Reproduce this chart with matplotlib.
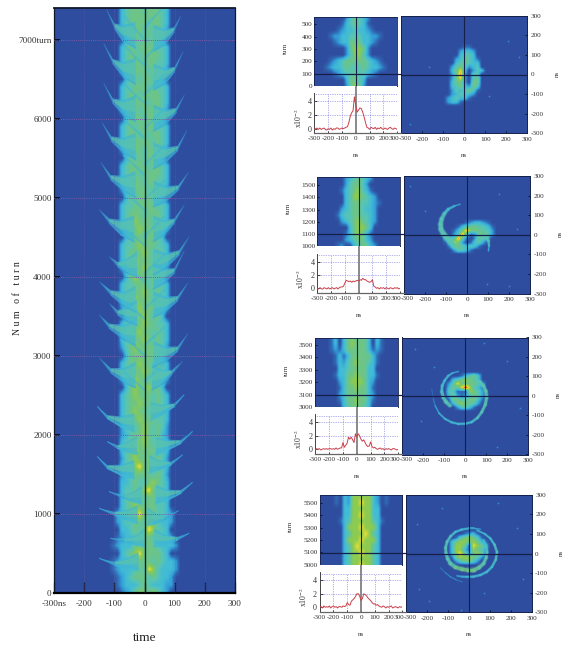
import numpy as np
import matplotlib
matplotlib.use("Agg")
import matplotlib.pyplot as plt
from matplotlib.collections import LineCollection
from matplotlib.colors import LinearSegmentedColormap
from matplotlib.lines import Line2D

plt.rcParams['font.family'] = ['Liberation Serif', 'DejaVu Serif']
W, H = 565, 648

# ---------- data: main waterfall, one row per 100 turns (7400 -> 0), one column per 15 ns (-180 .. 180)
MAIN_ROWS = """
0000000 34555455543 0000000
0000000 34555555543 0000000
0000000 34555545543 0000000
0000000 24555454542 0000000
00000000 355454553 00000000
0000000 34545555443 0000000
0000000 34554555543 0000000
0000000 34555455443 0000000
0000000 24555545542 0000000
00000000 355455453 00000000
0000000 34455545443 0000000
0000000 34554555543 0000000
0000000 34555545543 0000000
0000000 24554555542 0000000
00000000 355545543 00000000
0000000 34545555443 0000000
0000000 34554545543 0000000
0000000 34555554543 0000000
0000000 24555455542 0000000
00000000 354545543 00000000
0000000 34555545543 0000000
0000000 34554555543 0000000
0000000 34555455443 0000000
0000000 24555545542 0000000
00000000 354555453 00000000
0000000 34455555443 0000000
0000000 34555455543 0000000
0000000 34565554543 0000000
0000000 24556555542 0000000
00000000 355545553 00000000
0000000 34456555443 0000000
0000000 34555654543 0000000
0000000 34565554543 0000000
0000000 24555654542 0000000
00000000 356554553 00000000
0000000 34455545443 0000000
0000000 34555654543 0000000
0000000 34565554543 0000000
0000000 24556555442 0000000
00000000 355565453 00000000
0000000 34455655443 0000000
0000000 34556554543 0000000
0000000 34555654543 0000000
0000000 24565555542 0000000
00000000 355555553 00000000
0000000 34556554543 0000000
0000000 34555655543 0000000
0000000 24565545542 0000000
00000000 356556553 00000000
0000000 34565554543 0000000
0000000 34556554543 0000000
0000000 34565545543 0000000
0000000 34556555443 0000000
0000000 24545654542 0000000
0000000 23455654532 0000000
0000000 34565654543 0000000
0000000 34565555443 0000000
0000000 24565554542 0000000
0000000 34467555443 0000000
0000000 23455554542 0000000
0000000 33454456543 0000000
0000000 34454675443 0000000
0000000 34555455443 0000000
0000000 34565555443 0000000
000000 2345675554432 000000
000000 2344554654332 000000
0000000 33454576443 0000000
000000 1233455544332 000000
00000 123335555543332 00000
0000000 34567555543 0000000
00000 123345555454332 00000
00000 123334547643332 00000
000000 1234555454332 000000
000000 1233345433322 000000
0000000 12356556532 0000000
"""
MAIN_NS = [-180, 180]
MAIN_TURN = [7400, 0]

# strong thin wings of the first turns: (ns, turn) points, from tip to body
MAIN_WINGS_LOW = [
    [(-156, 2359), (-123, 2211), (-78, 2105), (-34, 2043)],
    [(131, 2507), (98, 2359), (54, 2253), (21, 2190)],
    [(159, 2043), (120, 1895), (76, 1810), (38, 1747)],
    [(-123, 1916), (-89, 1831), (-56, 1789), (-25, 1760)],
    [(-156, 1725), (-123, 1578), (-78, 1494), (-34, 1451)],
    [(126, 1747), (87, 1620), (43, 1557), (15, 1520)],
    [(159, 1400), (120, 1262), (76, 1177), (38, 1135)],
    [(-117, 1283), (-67, 1199), (-34, 1156), (-10, 1130)],
    [(-150, 1072), (-100, 988), (-56, 925), (-23, 882)],
    [(112, 1040), (65, 925), (35, 880), (10, 860)],
    [(148, 756), (109, 671), (65, 608), (32, 587)],
    [(-112, 692), (-67, 650), (-23, 608), (0, 590)],
    [(-150, 439), (-100, 355), (-56, 312), (-20, 290)],
]
# fainter wings further on
MAIN_WINGS_HIGH = [
    [(-150, 4850), (-117, 4680), (-78, 4532), (-34, 4448)],
    [(-117, 4257), (-89, 4130), (-56, 4047), (-25, 4000)],
    [(-150, 3941), (-112, 3773), (-67, 3625), (-30, 3560)],
    [(-117, 3667), (-89, 3519), (-56, 3435), (-25, 3390)],
    [(-150, 3519), (-117, 3350), (-67, 3203), (-30, 3140)],
    [(-150, 2976), (-112, 2786), (-67, 2660), (-30, 2600)],
    [(132, 4912), (99, 4680), (65, 4532), (30, 4450)],
    [(148, 4511), (115, 4279), (70, 4110), (30, 4030)],
    [(132, 4330), (99, 4050), (65, 3920), (30, 3850)],
    [(143, 3920), (110, 3700), (70, 3560), (30, 3490)],
    [(143, 3280), (110, 3060), (70, 2930), (30, 2860)],
    [(126, 2930), (90, 2760), (58, 2640), (25, 2570)],
    [(-125, 7380), (-100, 7150), (-75, 7000), (-30, 6900)],
    [(-135, 6950), (-105, 6700), (-70, 6530), (-30, 6440)],
    [(-135, 6450), (-105, 6200), (-70, 6050), (-30, 5970)],
    [(-140, 5950), (-110, 5720), (-70, 5570), (-30, 5490)],
    [(-145, 5450), (-112, 5230), (-70, 5090), (-30, 5010)],
    [(120, 7300), (98, 7100), (70, 6950), (30, 6860)],
    [(128, 6850), (100, 6600), (70, 6450), (30, 6370)],
    [(132, 6300), (105, 6080), (70, 5930), (30, 5850)],
    [(140, 5850), (110, 5600), (70, 5450), (30, 5370)],
    [(145, 5320), (112, 5100), (72, 4960), (30, 4890)],
]

# pale chevrons inside the body: (ns, turn)
MAIN_VEES = [
    [(-65, 7300), (-30, 7130), (0, 7010)], [(65, 7420), (30, 7280), (0, 7160)],
    [(-67, 6937), (-30, 6780), (0, 6684)], [(65, 7010), (30, 6880), (0, 6760)],
    [(-70, 6450), (-30, 6300), (0, 6200)], [(65, 6560), (30, 6420), (0, 6310)],
    [(-70, 6000), (-30, 5860), (0, 5760)], [(65, 6130), (30, 5990), (0, 5880)],
    [(-70, 5540), (-30, 5400), (0, 5290)], [(65, 5660), (30, 5530), (0, 5420)],
    [(-70, 5080), (-30, 4950), (0, 4850)], [(65, 5220), (30, 5090), (0, 4980)],
    [(-70, 4620), (-30, 4500), (0, 4400)], [(65, 4760), (30, 4630), (0, 4520)],
    [(-70, 4160), (-30, 4040), (0, 3940)], [(65, 4280), (30, 4150), (0, 4050)],
    [(-70, 3700), (-30, 3570), (0, 3470)], [(65, 3830), (30, 3700), (0, 3600)],
    [(-70, 3240), (-30, 3110), (0, 3010)], [(65, 3360), (30, 3240), (0, 3140)],
    [(-70, 2800), (-30, 2670), (0, 2570)], [(65, 2900), (30, 2780), (0, 2680)],
]

# thickness of each wing above its lower edge, tip to body (turns)
WING_RISE_LOW = [0, 40, 130, 230]
WING_RISE_HIGH = [0, 60, 190, 330]

# ---------- small waterfalls: rows per 50 turns (top to bottom), columns per 30 ns
HM_ROWS = [
    """
    00000000 245432 0000000
    0000000 1345431 0000000
    000000 123343321 000000
    0000 1223344433221 0000
    00000 12335553321 00000
    00000000 256652 0000000
    00000000 246642 0000000
    0000 1234555554321 0000
    000 123345444543321 000
    00000 12344544321 00000
    00000000 35543 00000000
    00000000 25652 00000000
    """,
    """
    0000000 2345432 0000000
    0000000 245542 00000000
    000000 13456431 0000000
    0000000 34665432 000000
    0000000 345544321 00000
    000000 234554332 000000
    00000 1344554432 000000
    000000 234565432 000000
    00000000 356653 0000000
    0000000 1356531 0000000
    0000000 2345532 0000000
    00000 1200345532 000000
    """,
    """
    0000 1303555553031 0000
    0000 1303565553031 0000
    0000 1213555553121 0000
    00000 13135555531 00000
    00000 13245655431 00000
    00000 03345555330 00000
    00000 13355655331 00000
    00000 02356665320 00000
    000000 135565531 000000
    000000 235555532 000000
    000000 135565531 000000
    000000 034555430 000000
    """,
    """
    0000 1032666663201 0000
    0000 1032667663201 0000
    00000 03366666330 00000
    00000 03366766330 00000
    00000 13466666431 00000
    00000 03666766630 00000
    00000 03466676430 00000
    00000 03666766630 00000
    00000 03467666430 00000
    000000 346676643 000000
    000000 346666643 000000
    000000 346676643 000000
    """,
]
HM_BASE = [0, 1000, 3000, 5000]
HM_TOP = [561, 1568, 3550, 5567]
HM_TICKS = [[0, 100, 200, 300, 400, 500],
            [1000, 1100, 1200, 1300, 1400, 1500],
            [3000, 3100, 3200, 3300, 3400, 3500],
            [5000, 5100, 5200, 5300, 5400, 5500]]
HM_LINE_TURN = [97, 1097, 3097, 5097]

# ---------- profiles: ns grid and values (x10^-2)
PROFILE_NS = list(range(-300, 301, 10))
PROFILES = [
    [-.1, 0, .1, -.1, .1, -.1, 0, .1, -.1, -.2, 0, -.1, .1, -.2, 0, -.1, .1, .1, -.1, 0,
     .1, 0, .1, .2, .3, .9, 1.8, 2.3, 2.6, 4.6, 3.4, 2.4, 2.7, 3.0, 2.9, 2.4, 1.7, .9, .2, .1,
     -.1, .2, .1, 0, .2, -.1, .1, 0, .2, 0, -.1, .1, 0, -.1, .1, .2, 0, -.1, .1, 0, -.1],
    [0, -.1, .1, -.1, -.1, .1, 0, -.1, .1, -.1, 0, .1, -.1, 0, .1, -.1, .1, .2, .2, .3,
     .8, 1.2, 1.1, 1.0, 1.1, .9, 1.1, 1.0, 1.1, 1.2, 1.1, 1.3, 1.2, 1.5, 1.3, 1.3, 1.1, 1.0, .9, 1.0,
     1.3, .3, .2, 0, .1, -.1, .1, 0, .1, -.1, .1, 0, -.1, .1, 0, -.1, .1, 0, .1, -.1, 0],
    [-.1, .1, 0, .1, -.1, 0, .1, 0, .1, 0, .1, .1, 0, .1, 0, .2, 0, .1, .2, .2,
     1.0, .3, .6, .9, 1.8, 1.5, 1.8, 1.4, 1.0, 2.3, 1.8, 2.3, 2.0, 1.5, 1.2, 1.4, 1.0, .6, .4, .5,
     1.1, .4, .2, .3, .1, 0, .1, .2, 0, .1, -.1, .1, 0, .1, 0, -.1, .1, .1, 0, -.1, 0],
    [0, .1, -.1, .2, 0, .1, 0, .2, -.1, .1, .2, 0, .1, -.1, .1, .1, 0, .2, .1, .2,
     .7, .4, .3, .9, 1.1, 1.3, 1.6, 2.0, 2.0, 1.7, 1.0, 1.3, 2.0, 1.9, 1.7, 1.4, 1.2, 1.0, .7, .5,
     .5, .3, .4, .2, .1, 0, .2, .1, -.1, .1, 0, .1, .2, -.1, 0, .1, 0, -.1, .1, 0, .1],
]
TIME_LABELS = ["-300", "-200", "-100", "0", "100", "200", "300"]

# ---------- phase space maps: rows y = 160 .. -160, columns x = -160 .. 160, step 20
PHASE_ROWS = [
    """
    00000000000000000
    00000000110000000
    00000002332000000
    00000003443000000
    00000023543100000
    00000034543300000
    00000245423400000
    00000357302430000
    00000258204400000
    00000257204500000
    00000355205500000
    00000345325400000
    00000243454100000
    00000234432000000
    00002343310000000
    00002331000000000
    00000000000000000
    """,
    """
    00000000000000000
    00000000000000000
    00000000000000000
    00000000000000000
    00000000000000000
    00000000123321000
    00000013455443100
    00000135855544200
    00000248312554200
    00034484102542000
    00014752014420000
    00002554343100000
    00000244310000000
    00000000000000000
    00000000000000000
    00000000000000000
    00000000000000000
    """,
    """
    00000000000000000
    00000000000000000
    00000000000000000
    00000001345300000
    00000345655300000
    00002475555420000
    00003547964310000
    00004411165420000
    00003521245420000
    00001554455310000
    00000356554200000
    00000024431000000
    00000000000000000
    00000000000000000
    00000000000000000
    00000000000000000
    00000000000000000
    """,
    """
    00000000000000000
    00000000000000000
    00000000000000000
    00000001231000000
    00000145654100000
    00003566565310000
    00003665176530000
    00003663165420000
    00003675256510000
    00001566654200000
    00000245542000000
    00000000000000000
    00000000000000000
    00000000000000000
    00000000000000000
    00000000000000000
    00000000000000000
    """,
]

# spiral arms: (x ns, y ns, stroke, level)
PHASE_ARMS = [
    [],
    [[(-33, 156, .6, 2), (-60, 147, 1.2, 2.5), (-89, 131, 1.7, 3), (-108, 108, 2.2, 3.5), (-121, 80, 2.6, 4),
      (-126, 54, 2.8, 4), (-124, 29, 3, 4), (-113, 6, 3.2, 4), (-97, -14, 3.4, 4), (-80, -32, 3.4, 4), (-65, -48, 3.4, 4)],
     [(50, -20, 2.5, 4), (78, -8, 2.5, 4), (95, -15, 2, 4), (102, -31, 1.7, 4), (105, -55, 1.2, 3), (102, -82, .8, 2)]],
    [[(-144, -49, .8, 2), (-125, -88, 1, 2.5), (-97, -117, 1.2, 3), (-65, -135, 1.3, 3), (-33, -143, 1.4, 3),
      (0, -142, 1.4, 3), (30, -134, 1.5, 3), (58, -112, 1.6, 3.5), (78, -83, 1.7, 4), (95, -45, 1.9, 4),
      (102, -7, 2.1, 4), (98, 25, 2.1, 4), (86, 53, 2.1, 4), (68, 72, 2.3, 4), (46, 83, 2.5, 4)],
     [(-33, 126, .8, 2), (-60, 118, 1.1, 2.5), (-81, 104, 1.3, 3), (-98, 80, 1.5, 3), (-110, 53, 1.7, 3),
      (-112, 22, 1.9, 3.5), (-105, -7, 2.1, 4), (-92, -30, 2.3, 4), (-73, -49, 2.5, 4)],
     [(-160, 36, .7, 1), (-152, -15, .7, 1), (-144, -49, .8, 2)]],
    [[(38, 119, 1, 3), (75, 100, 1.2, 3), (102, 77, 1.4, 3), (122, 45, 1.5, 3.5), (134, 8, 1.5, 4), (128, -32, 1.5, 3.5),
      (110, -68, 1.5, 3), (85, -94, 1.5, 3), (54, -110, 1.5, 3), (22, -118, 1.4, 3), (-10, -119, 1.4, 3),
      (-35, -118, 1.2, 2.5), (-57, -114, 1, 2)],
     [(54, 124, .8, 2), (25, 128, 1, 2.5), (-2, 128, 1.3, 3), (-35, 122, 1.4, 3), (-65, 110, 1.5, 3), (-88, 88, 1.6, 3.5),
      (-105, 60, 1.7, 4), (-112, 30, 1.8, 4), (-110, 0, 1.9, 4), (-102, -27, 2.1, 4), (-89, -51, 2.4, 4),
      (-65, -70, 2.5, 4.5), (-33, -80, 2.5, 5), (-5, -85, 2.5, 5), (22, -85, 2.5, 5), (48, -72, 2.4, 4.5),
      (70, -51, 2.2, 4), (82, -22, 1.9, 4), (86, 8, 1.7, 4), (82, 40, 1.5, 3.5), (70, 68, 1.3, 3)],
     [(-137, -73, .7, 1), (-113, -98, .7, 1.5), (-89, -119, .7, 2), (-60, -135, .7, 1.5), (-33, -145, .8, 1)]],
]

# isolated bright counts seen on the maps: (x ns, y ns)
PHASE_SPECKS = [
    [(210, 170), (-170, 40), (120, -110), (-260, -250), (260, 90)],
    [(-270, 250), (95, -250), (200, -260), (-200, 120), (240, 30), (150, 210)],
    [(-240, 240), (-150, 150), (200, 180), (-210, -130), (150, -260), (260, -60), (90, 270)],
    [(-250, 150), (-240, -180), (140, 260), (-190, -240), (-40, -290), (230, 130), (70, -200), (-130, 230), (260, -130)],
]

# ---------- layout in reference pixels
PANELS = [
    dict(hm=(314.3, 397.3, 16.7, 86.3), prof_bottom=133.3, p0=128.7, p4=101.0, ph=(401.3, 527.3, 15.7, 133.3), ph0=74.3),
    dict(hm=(317.3, 400.0, 176.7, 246.3), prof_bottom=293.3, p0=288.3, p4=261.7, ph=(404.0, 530.0, 176.0, 293.7), ph0=234.0),
    dict(hm=(315.3, 398.3, 338.3, 407.3), prof_bottom=454.3, p0=449.3, p4=422.3, ph=(402.3, 528.3, 337.5, 454.5), ph0=395.3),
    dict(hm=(319.7, 402.3, 494.7, 564.7), prof_bottom=612.3, p0=607.3, p4=580.3, ph=(406.3, 531.7, 494.7, 612.3), ph0=553.0),
]

cmap = LinearSegmentedColormap.from_list("beam", [
    (0 / 9, "#2f4d9e"), (1 / 9, "#2f6bb5"), (2 / 9, "#34a0d8"), (3 / 9, "#42bcd4"),
    (4 / 9, "#58c4b4"), (5 / 9, "#6cc488"), (6 / 9, "#8ccb50"), (7 / 9, "#eadf30"),
    (8 / 9, "#f0902c"), (9 / 9, "#de2c20")])
BG = cmap(0.0)
FONT_MAIN = 6.6
FONT_SMALL = 5.2
DARK = "#14204a"


def parse(text):
    rows = [r.replace(" ", "") for r in text.strip().splitlines()]
    return np.array([[int(c) for c in r] for r in rows], dtype=float)


def px_axes(fig, x0, x1, ytop, ybot):
    return fig.add_axes([x0 / W, 1 - ybot / H, (x1 - x0) / W, (ybot - ytop) / H])


def grid_image(ax, arr, xr, yr):
    nr, nc = arr.shape
    dx = (xr[1] - xr[0]) / (nc - 1)
    dy = (yr[0] - yr[1]) / (nr - 1)
    ax.set_facecolor(BG)
    ax.imshow(arr, extent=[xr[0] - dx / 2, xr[1] + dx / 2, yr[1] - dy / 2, yr[0] + dy / 2],
              origin="upper", aspect="auto", cmap=cmap, vmin=0, vmax=9,
              interpolation="bilinear", zorder=1)


def ridge(ax, pts, widths, levels, alpha=.85, zorder=2):
    p = np.array(pts, dtype=float)[:, :2]
    segs = np.stack([p[:-1], p[1:]], axis=1)
    wid = np.asarray(widths, float)
    lev = np.asarray(levels, float)
    for f, a in ((1.6, .25), (1.0, alpha)):
        lc = LineCollection(segs, linewidths=.5 * (wid[:-1] + wid[1:]) * f, colors=cmap(.5 * (lev[:-1] + lev[1:]) / 9),
                            alpha=a, capstyle="round", zorder=zorder)
        ax.add_collection(lc)


def wedge(ax, pts, rise, zorder=1.5):
    """Fill the wing from its lower edge up to its thickness, with a greener inner part."""
    p = np.array(pts, dtype=float)
    r = np.asarray(rise, float)
    xs = np.r_[p[:, 0], p[::-1, 0]]
    ys = np.r_[p[:, 1], (p[:, 1] + r)[::-1]]
    ax.fill(xs, ys, color=cmap(2.8 / 9), alpha=.7, lw=0, zorder=zorder)
    q = p[1:]
    rr = r[1:]
    xs = np.r_[q[:, 0], q[::-1, 0]]
    ys = np.r_[q[:, 1] + .35 * rr, (q[:, 1] + .85 * rr)[::-1]]
    ax.fill(xs, ys, color=cmap(4.2 / 9), alpha=.7, lw=0, zorder=zorder)


def style(ax, color="#222222", lw=.8):
    for s in ax.spines.values():
        s.set_color(color)
        s.set_linewidth(lw)


fig = plt.figure(figsize=(W / 100, H / 100), dpi=100, facecolor="white")

# ---------- main waterfall
ax = px_axes(fig, 54.3, 234.7, 7.5, 593)
grid_image(ax, parse(MAIN_ROWS), MAIN_NS, MAIN_TURN)
for w in MAIN_WINGS_HIGH:
    wedge(ax, w, WING_RISE_HIGH)
    ridge(ax, w, [.4, .6, .9, 1.0], [1, 1.6, 2.4, 2.6], alpha=.7)
for w in MAIN_WINGS_LOW:
    wedge(ax, w, WING_RISE_LOW)
    ridge(ax, w, [.5, .9, 1.1, 1.2], [1.6, 2.6, 3, 3], alpha=.8)
for v in MAIN_VEES:
    ridge(ax, v, [.9, 1.1, 1.0], [2.8, 3, 2.8], alpha=.5)
ax.set_xlim(-300, 300)
ax.set_ylim(0, 7411)
for t in range(1000, 8000, 1000):
    ax.axhline(t, color="#7a5aa8", lw=.7, ls=(0, (1, 1.2)), zorder=3)
for x in (-200, -100, 100, 200):
    ax.axvline(x, color="#6a5aa8", lw=.5, ls=(0, (1, 2)), zorder=3)
ax.axvline(0, color="#10182c", lw=1.0, zorder=4)
ax.set_xticks(range(-300, 301, 100))
ax.set_xticklabels(["-300ns", "-200", "-100", "0", "100", "200", "300"], fontsize=FONT_MAIN)
ax.set_yticks(range(0, 7001, 1000))
ax.set_yticklabels(["0", "1000", "2000", "3000", "4000", "5000", "6000", "7000turn"], fontsize=FONT_MAIN)
ax.tick_params(axis="x", direction="in", length=8, width=.9, color="#10182c", pad=5, colors="#333333")
ax.tick_params(axis="y", direction="in", length=4.5, width=1.1, color="black", pad=2, colors="#333333")
style(ax, "#10182c", .9)
ax.spines["bottom"].set_linewidth(1.6)
ax.spines["bottom"].set_color("black")
ax.spines["top"].set_linewidth(1.3)
fig.text(145 / W, 1 - 638 / H, "time", fontsize=9.5, ha="center", va="center", color="#222222")
fig.text(18 / W, 1 - 298 / H, "N u m   o f   t u r n", fontsize=7, rotation=90, ha="center", va="center", color="#222222")


def seam_label(axis, text, xval, shift_pts):
    """Tick label at the seam between profile and phase axes, moved off its neighbour."""
    axis.annotate(text, xy=(xval, 0), xycoords=("data", "axes fraction"), xytext=(shift_pts, -2),
                  textcoords="offset points", ha="center", va="top", fontsize=FONT_SMALL, color="#333333",
                  annotation_clip=False)


# ---------- four small panels
for i, P in enumerate(PANELS):
    x0, x1, yt, yb = P["hm"]
    # waterfall
    a = px_axes(fig, x0, x1, yt, yb)
    grid_image(a, parse(HM_ROWS[i]), [-300, 300], [HM_BASE[i] + 550, HM_BASE[i]])
    a.set_xlim(-300, 300)
    a.set_ylim(HM_BASE[i], HM_TOP[i])
    a.axvline(0, color=DARK, lw=.8, zorder=4)
    a.axhline(HM_LINE_TURN[i], color=DARK, lw=.9, zorder=4)
    a.set_xticks([])
    a.set_yticks(HM_TICKS[i])
    a.set_yticklabels([str(v) for v in HM_TICKS[i]], fontsize=FONT_SMALL, color="#333333")
    a.tick_params(axis="y", direction="in", length=1.6, width=.5, pad=1.5)
    style(a, DARK, .6)
    fig.text((x0 - 29) / W, 1 - (yt + 32) / H, "turn", fontsize=5, rotation=90, ha="center", va="center", color="#333333")

    # profile
    pb = P["prof_bottom"]
    per = (P["p0"] - P["p4"]) / 4
    b = px_axes(fig, x0, x1, yb, pb)
    b.plot(PROFILE_NS, PROFILES[i], color="#c8404a", lw=.7, zorder=3)
    b.set_xlim(-300, 300)
    b.set_ylim(-(pb - P["p0"]) / per, (P["p0"] - yb) / per)
    b.axvline(0, color="#808080", lw=1.3, zorder=2)
    for x in (-200, -100, 100, 200):
        b.plot([x, x], [b.get_ylim()[0], 5], color="#6a6ad8", lw=.5, ls=(0, (1, 1.5)), zorder=1)
    for y in (2, 4, 5):
        b.axhline(y, color="#6a6ad8", lw=.5, ls=(0, (1, 1.5)), zorder=1)
    b.set_xticks(range(-300, 301, 100))
    b.set_xticklabels(TIME_LABELS[:-1] + [""], fontsize=FONT_SMALL, color="#333333")
    seam_label(b, TIME_LABELS[-1], 300, -2.6)
    b.set_yticks([0, 2, 4])
    b.set_yticklabels(["0", "2", "4"], fontsize=FONT_SMALL + .6, color="#333333")
    b.tick_params(axis="both", direction="in", length=1.8, width=.5, pad=2)
    for s in ("top", "right"):
        b.spines[s].set_visible(False)
    b.spines["left"].set_bounds(b.get_ylim()[0], 5.2)
    style(b, "#444444", .7)
    fig.text((x0 - 16.5) / W, 1 - (P["p4"] + 17) / H, r"x10$^{-2}$", fontsize=5.6, rotation=90, ha="center", va="center",
             color="#333333", math_fontfamily="stix")
    fig.text((x0 + x1) / 2 / W, 1 - (pb + 22) / H, "ns", fontsize=5, ha="center", va="center", color="#333333")

    # phase space
    px0, px1, pyt, pyb = P["ph"]
    c = px_axes(fig, px0, px1, pyt, pyb)
    grid_image(c, parse(PHASE_ROWS[i]), [-160, 160], [160, -160])
    for arm in PHASE_ARMS[i]:
        ridge(c, arm, [q[2] for q in arm], [q[3] for q in arm])
    sx, sy = zip(*PHASE_SPECKS[i])
    c.scatter(sx, sy, s=1.6, color=cmap(1.6 / 9), linewidths=0, zorder=2)
    c.set_xlim(-300, 300)
    c.set_ylim(-300, 300)
    c.axvline(0, color=DARK, lw=.8, zorder=4)
    c.axhline(0, color=DARK, lw=.9, zorder=4)
    c.set_xticks(range(-300, 301, 100))
    c.set_xticklabels([""] + TIME_LABELS[1:], fontsize=FONT_SMALL, color="#333333")
    seam_label(c, TIME_LABELS[0], -300, 2.6)
    c.set_yticks(range(-300, 301, 100))
    c.set_yticklabels([str(v) for v in range(-300, 301, 100)], fontsize=FONT_SMALL, color="#333333")
    c.yaxis.tick_right()
    c.tick_params(axis="both", direction="in", length=1.6, width=.5, pad=2.5)
    style(c, DARK, .7)
    fig.text((px0 + px1) / 2 / W, 1 - (pb + 22) / H, "ns", fontsize=5, ha="center", va="center", color="#333333")
    fig.text((px1 + 30) / W, 1 - P["ph0"] / H, "ns", fontsize=5, rotation=90, ha="center", va="center", color="#333333")

    # the cursor lines bridging the panels
    fig.add_artist(Line2D([x1 / W, px0 / W], [1 - P["ph0"] / H] * 2, color=DARK, lw=.9))
    fig.add_artist(Line2D([x0 / W, px0 / W], [1 - (pb - .4) / H] * 2, color="#666666", lw=.9))

fig.savefig("out.png", dpi=100, facecolor="white")
